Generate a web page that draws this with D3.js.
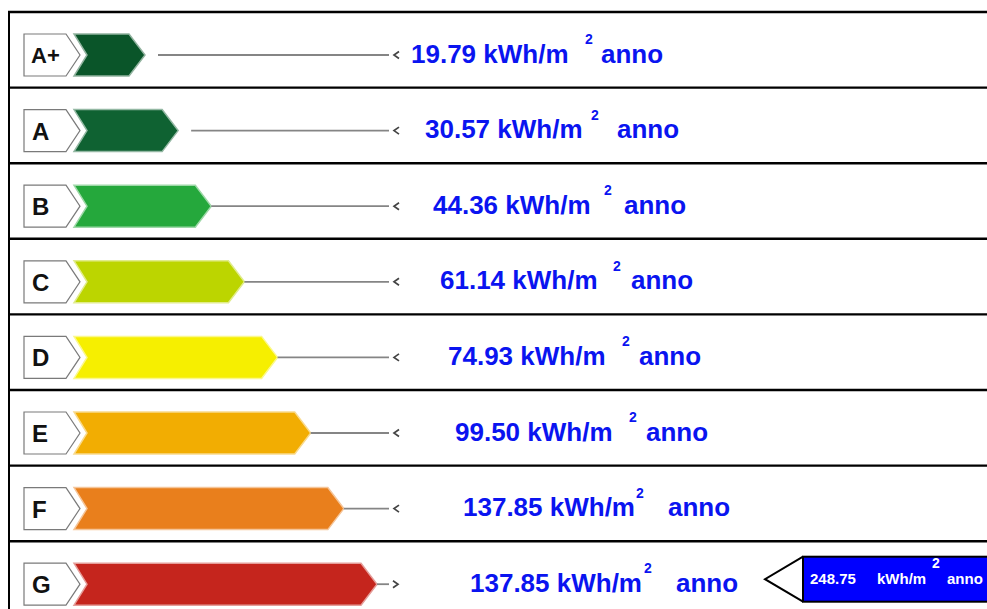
<!DOCTYPE html>
<html>
<head>
<meta charset="utf-8">
<script src="https://cdn.jsdelivr.net/npm/d3@7"></script>
<style>
  html, body { margin: 0; padding: 0; background: #fff; }
  svg { display: block; }
  text { font-family: "Liberation Sans", Arial, sans-serif; font-weight: bold; }
</style>
</head>
<body>
<div id="chart"></div>
<script>
// ---- data ----
const classes = ["A+", "A", "B", "C", "D", "E", "F", "G"];
const thresholds = [19.79, 30.57, 44.36, 61.14, 74.93, 99.50, 137.85, 137.85];
const classColors = ["#0a5529", "#0f6232", "#25a83c", "#bcd500", "#f6ef00", "#f2ad02", "#e97f1c", "#c5251d"];
const currentValue = 248.75;
const currentClass = "G";
const unitText = "kWh/m";
const supText = "2";
const yearText = "anno";

// ---- layout (positions only) ----
const W = 987, H = 609;
const textX = [411, 425, 433, 440, 448, 455, 463, 470];
const supX = [585, 591, 604, 613, 622, 629, 636, 644];
const annoX = [601, 617, 624, 631, 639, 646, 668, 676];

const svg = d3.select("#chart").append("svg").attr("width", W).attr("height", H);

const y = d3.scaleBand().domain(classes).range([12, 12 + 8 * 75.6]).padding(0);
const tipX = d3.scaleLinear().domain([0, classes.length - 1]).range([145, 377]);
const fmt = d3.format(".2f");

const rows = svg.selectAll("g.row").data(classes).join("g")
  .attr("class", "row")
  .attr("transform", d => `translate(0,${y(d)})`);

// label box
rows.append("path")
  .attr("d", "M24,22 L66,22 L80,43 L66,64 L24,64 Z")
  .attr("fill", "#fff").attr("stroke", "#7a7a7a").attr("stroke-width", 1.2);
rows.append("text")
  .attr("x", d => d.length > 1 ? 31 : 32)
  .attr("y", d => d.length > 1 ? 51 : 52)
  .attr("font-size", d => d.length > 1 ? 22 : 24)
  .attr("fill", "#111")
  .text(d => d);

// colored arrows
rows.append("path")
  .attr("d", (d, i) => {
    const t = tipX(i);
    return `M74,22 L${t - 16},22 L${t},43 L${t - 16},64 L74,64 L87,43 Z`;
  })
  .attr("fill", (d, i) => classColors[i])
  .attr("stroke", (d, i) => d3.interpolateRgb(classColors[i], "#fff")(0.55))
  .attr("stroke-width", 1.5);

// gray lines
rows.append("line")
  .attr("x1", (d, i) => tipX(i) + (i < 2 ? 13 : 0))
  .attr("x2", 389)
  .attr("y1", 43).attr("y2", 43)
  .attr("stroke", "#858585").attr("stroke-width", 1.8);

// small chevrons
rows.append("path")
  .attr("d", d => d === currentClass ? "M393,39.5 L398,43 L393,46.5" : "M399,39.5 L394,43 L399,46.5")
  .attr("fill", "none").attr("stroke", "#444").attr("stroke-width", 1.7);

// value texts
rows.append("text")
  .attr("x", (d, i) => textX[i]).attr("y", 50.5)
  .attr("font-size", 26).attr("fill", "#0a14f0")
  .text((d, i) => `${fmt(thresholds[i])} ${unitText}`);
rows.append("text")
  .attr("x", (d, i) => supX[i]).attr("y", 32)
  .attr("font-size", 14).attr("fill", "#0a14f0")
  .text(supText);
rows.append("text")
  .attr("x", (d, i) => annoX[i]).attr("y", 50.5)
  .attr("font-size", 26).attr("fill", "#0a14f0")
  .text(yearText);

// table borders
svg.selectAll("line.hl").data(classes).join("line")
  .attr("class", "hl")
  .attr("x1", 8).attr("x2", W)
  .attr("y1", d => y(d)).attr("y2", d => y(d))
  .attr("stroke", "#000").attr("stroke-width", 2.4);
svg.append("line")
  .attr("x1", 9).attr("x2", 9).attr("y1", 11).attr("y2", H)
  .attr("stroke", "#000").attr("stroke-width", 2);

// current value indicator
const cg = svg.append("g").attr("transform", `translate(0,${y(currentClass)})`);
cg.append("path")
  .attr("d", "M803,15.5 L765,38 L803,60.5")
  .attr("fill", "#fff").attr("stroke", "#000").attr("stroke-width", 2);
cg.append("rect")
  .attr("x", 803).attr("y", 15.5).attr("width", 200).attr("height", 45)
  .attr("fill", "#0000ff").attr("stroke", "#000").attr("stroke-width", 2);
cg.append("text").attr("x", 810).attr("y", 43).attr("font-size", 15).attr("fill", "#fff")
  .text(fmt(currentValue));
cg.append("text").attr("x", 877).attr("y", 43).attr("font-size", 15).attr("fill", "#fff")
  .text(unitText);
cg.append("text").attr("x", 932).attr("y", 27).attr("font-size", 14).attr("fill", "#fff")
  .text(supText);
cg.append("text").attr("x", 947).attr("y", 43).attr("font-size", 15).attr("fill", "#fff")
  .text(yearText);
</script>
</body>
</html>
